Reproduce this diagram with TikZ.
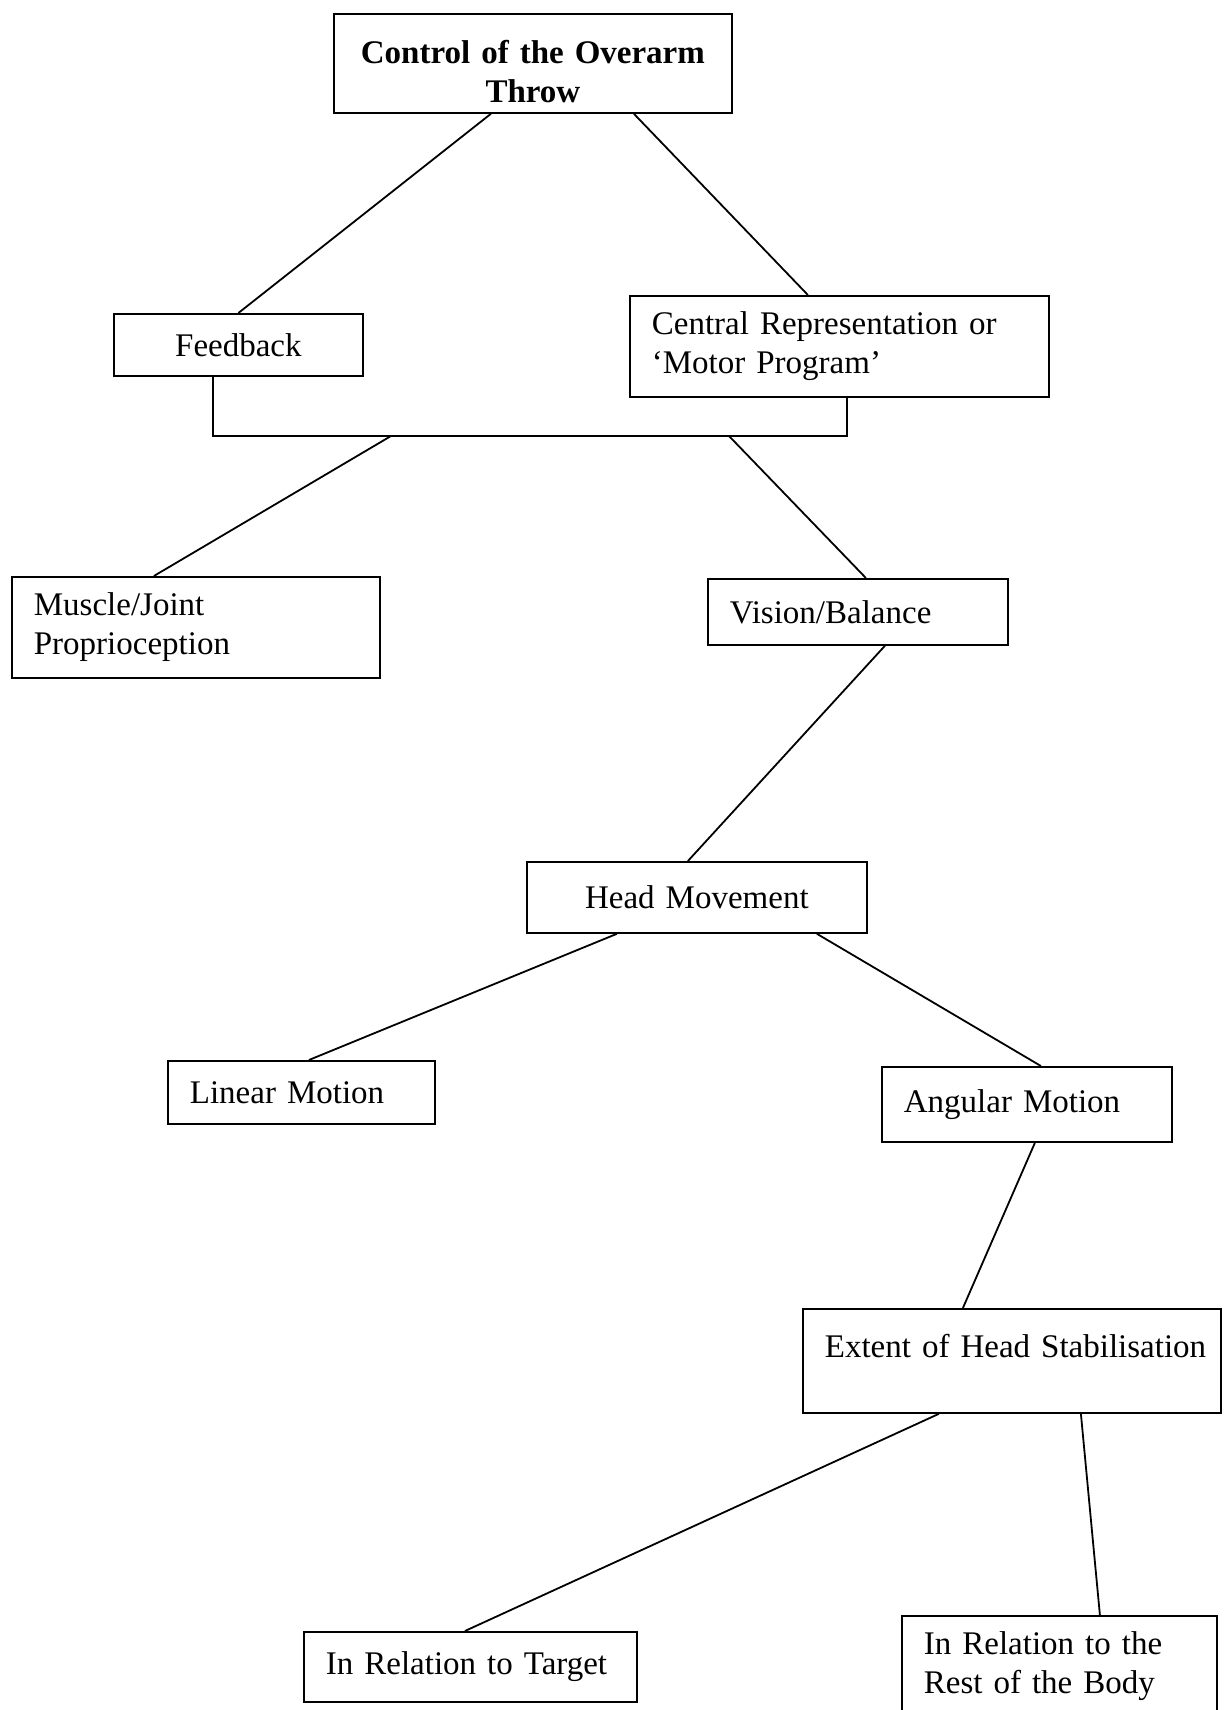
\documentclass[tikz,border=0pt]{standalone}
\usepackage{fontspec}
\setmainfont{Liberation Serif}

\tikzset{
    box/.style={draw, rectangle, line width=1.8pt, anchor=north west, inner xsep=22pt, inner ysep=0pt, align=left, font=\fontsize{33}{39}\selectfont},
    link/.style={line width=1.8pt}
}

\begin{document}
\begin{tikzpicture}[x=1pt,y=-1pt]
        \useasboundingbox (0,0) rectangle (1224,1710);
        \node[box, align=center, font=\fontsize{33}{39}\selectfont\bfseries, minimum width=398pt, text width=354pt, minimum height=99pt] (control) at (333,13) {\rule{0pt}{40pt}Control of the Overarm\\Throw}; %Title, text sits low
        \node[box, align=center, minimum width=249pt, text width=205pt, minimum height=62pt] (feedback) at (113,313) {Feedback};
        \node[box, minimum width=419pt, text width=375pt, minimum height=101pt] (central) at (629,295) {Central Representation or\\`Motor Program'};
        \node[box, minimum width=368pt, text width=324pt, minimum height=101pt] (muscle) at (11,576) {Muscle/Joint\\Proprioception};
        \node[box, minimum width=300pt, text width=256pt, minimum height=66pt] (vision) at (707,578) {Vision/Balance};
        \node[box, align=center, minimum width=340pt, text width=296pt, minimum height=71pt] (head) at (526,861) {Head Movement};
        \node[box, minimum width=267pt, text width=223pt, minimum height=63pt] (linear) at (167,1060) {Linear Motion};
        \node[box, minimum width=290pt, text width=246pt, minimum height=75pt] (angular) at (881,1066) {Angular Motion};
        \node[box, minimum width=418pt, text width=374pt, minimum height=104pt] (extent) at (802,1308) {\mbox{Extent of Head Stabilisation}\rule[-30pt]{0pt}{0pt}}; %text sits high
        \node[box, minimum width=333pt, text width=289pt, minimum height=70pt] (target) at (303,1631) {In Relation to Target};
        \node[box, minimum width=315pt, text width=271pt, minimum height=100pt] (rest) at (901,1615) {In Relation to the\\Rest of the Body}; %runs off the page

        \coordinate (barL) at (213,436);
        \coordinate (barR) at (847,436);
        \coordinate (barM) at (391,436);
        \coordinate (barV) at (729,436);

        \draw[link] ([xshift=-42pt]control.south) -- (feedback.north);
        \draw[link] ([xshift=101pt]control.south) -- ([xshift=-31.5pt]central.north);
        \draw[link] (feedback.south -| barL) -- (barL) -- (barR) -- (central.south -| barR); %Bracket joining both
        \draw[link] (barM) -- ([xshift=-42pt]muscle.north);
        \draw[link] (barV) -- ([xshift=8pt]vision.north);
        \draw[link] ([xshift=27pt]vision.south) -- ([xshift=-9pt]head.north);
        \draw[link] ([xshift=-80pt]head.south) -- ([xshift=7.5pt]linear.north);
        \draw[link] ([xshift=120pt]head.south) -- ([xshift=14pt]angular.north);
        \draw[link] ([xshift=8pt]angular.south) -- ([xshift=-49pt]extent.north);
        \draw[link] ([xshift=-73pt]extent.south) -- ([xshift=-5.5pt]target.north);
        \draw[link] ([xshift=69pt]extent.south) -- ([xshift=40.5pt]rest.north);
\end{tikzpicture}
\end{document}
